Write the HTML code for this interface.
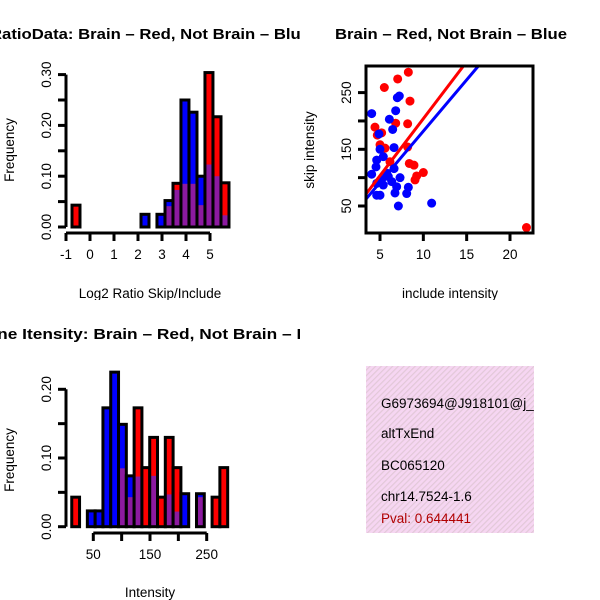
<!DOCTYPE html>
<html><head><meta charset="utf-8"><style>
html,body{margin:0;padding:0;background:#fff;}
svg{display:block;font-family:"Liberation Sans",sans-serif;}
</style></head><body>
<svg id="fig" width="600" height="600" viewBox="0 0 600 600" xmlns="http://www.w3.org/2000/svg">
<defs>
<clipPath id="c1"><rect x="0" y="0" width="300" height="300"/></clipPath>
<clipPath id="c2"><rect x="300" y="0" width="300" height="300"/></clipPath>
<clipPath id="c3"><rect x="0" y="300" width="300" height="300"/></clipPath>
<clipPath id="box2"><rect x="366" y="66" width="167" height="167"/></clipPath>
<clipPath id="box4"><rect x="366" y="366" width="168" height="167"/></clipPath>
<pattern id="hatch" width="4" height="4" patternUnits="userSpaceOnUse" patternTransform="rotate(45)">
<rect width="4" height="4" fill="#f6d6f2"/><rect width="1.2" height="4" fill="#e2c8d8"/></pattern>
</defs>
<g id="p1" clip-path="url(#c1)">
<text x="-10" y="39" textLength="320" lengthAdjust="spacingAndGlyphs" font-size="15" font-weight="bold">RatioData: Brain – Red, Not Brain – Blue</text>
<text x="150" y="298" text-anchor="middle" font-size="13.5">Log2 Ratio Skip/Include</text>
<text transform="translate(14,150) rotate(-90)" text-anchor="middle" font-size="13.5">Frequency</text>
</g>
<g id="p2" clip-path="url(#c2)">
<text x="335" y="39" textLength="232" lengthAdjust="spacingAndGlyphs" font-size="15" font-weight="bold">Brain – Red, Not Brain – Blue</text>
<text x="450" y="298" text-anchor="middle" font-size="13.5">include intensity</text>
<text transform="translate(314,150) rotate(-90)" text-anchor="middle" font-size="13.5">skip intensity</text>
</g>
<g id="p3" clip-path="url(#c3)">
<text x="-26" y="339" textLength="360" lengthAdjust="spacingAndGlyphs" font-size="15" font-weight="bold">Gene Itensity: Brain – Red, Not Brain – Blue</text>
<text x="150" y="597" text-anchor="middle" font-size="13.5">Intensity</text>
<text transform="translate(14,460) rotate(-90)" text-anchor="middle" font-size="13.5">Frequency</text>
</g>
<g id="p4">
<rect x="366" y="366" width="168" height="167" fill="url(#hatch)"/>
<g clip-path="url(#box4)" font-size="13.5">
<text x="381" y="408">G6973694@J918101@j_</text>
<text x="381" y="438">altTxEnd</text>
<text x="381" y="470">BC065120</text>
<text x="381" y="501">chr14.7524-1.6</text>
<text x="381" y="523" fill="#b00000">Pval: 0.644441</text>
</g>
</g>
</svg>
<script>
// ---- Panel 1 data ----
const ratioBinStarts = [-0.75, 2.125, 2.79, 3.125, 3.458, 3.79, 4.125, 4.458, 4.79, 5.125, 5.458];
const ratioBinWidth = 0.333;
const ratioRed  = [0.043, 0, 0, 0.041, 0.086, 0.085, 0.085, 0.043, 0.304, 0.217, 0.087];
const ratioBlue = [0, 0.025, 0.025, 0.052, 0.073, 0.25, 0.226, 0.1, 0.123, 0.1, 0.023];
const ratioXTicks = [-1, 0, 1, 2, 3, 4, 5];
const ratioYTicks = [0, 0.05, 0.1, 0.15, 0.2, 0.25, 0.3];
const ratioYLabels = ["0.00", "", "0.10", "", "0.20", "", "0.30"];
// ---- Panel 2 data ----
const redInclude = [8.27,7.04,5.5,8.46,6.81,8.19,4.42,4.69,5.19,5.0,5.58,8.19,6.15,8.38,8.92,10.0,9.23,9.04,21.9];
const redSkip    = [286,274,259,235,196,195,189,175,179,158,152,154,128,125,122,109,103,96,12];
const blueInclude = [4.04,7.23,7.0,6.81,6.08,6.46,4.88,5.0,6.62,5.38,4.62,4.54,4.04,6.62,5.96,7.31,4.62,5.38,6.35,6.92,8.27,6.73,8.08,5.0,4.62,7.12,10.96,5.77,5.19];
const blueSkip    = [213,244,241,218,203,185,177,150,153,137,131,119,106,116,102,100,90,87,93,84,83,73,72,69,69,50,55,108,97];
const redFit = [3, 20.1];   // intercept, slope
const blueFit = [1, 18.1];
const scatXTicks = [5, 10, 15, 20];
const scatYTicks = [50, 100, 150, 200, 250];
const scatYLabels = ["50", "", "150", "", "250"];
// ---- Panel 3 data ----
const intBinStart = 12;
const intBinWidth = 13.75;
const intRed  = [0.043,0,0,0,0,0,0.085,0.043,0.173,0.086,0.13,0.043,0.13,0.086,0,0,0.043,0,0.043,0.086];
const intBlue = [0,0,0.023,0.023,0.173,0.225,0.149,0.074,0.073,0,0.074,0,0.047,0.022,0.048,0,0.048,0,0,0];
const intXTicks = [50, 100, 150, 200, 250];
const intXLabels = ["50", "", "150", "", "250"];
const intYTicks = [0, 0.05, 0.1, 0.15, 0.2];
const intYLabels = ["0.00", "", "0.10", "", "0.20"];

const NS = "http://www.w3.org/2000/svg";
function mk(parent, tag, attrs) {
  const e = document.createElementNS(NS, tag);
  for (const k in attrs) e.setAttribute(k, attrs[k]);
  parent.appendChild(e);
  return e;
}
function txt(parent, x, y, s, attrs) {
  const t = mk(parent, "text", Object.assign({x: x, y: y, "font-size": 13.5, "text-anchor": "middle"}, attrs || {}));
  t.textContent = s;
  return t;
}

function histogram(g, starts, width, red, blue, sx, sy, prefix) {
  for (let i = 0; i < red.length; i++) {
    const r = red[i], b = blue[i];
    const hi = Math.max(r, b), lo = Math.min(r, b);
    if (hi <= 0) continue;
    const x0 = sx(starts(i)), x1 = sx(starts(i) + width);
    const bar = mk(g, "rect", {x: x0, y: sy(hi), width: x1 - x0, height: sy(0) - sy(hi), fill: r >= b ? "#ff0000" : "#0000ff"});
    
    
    if (lo > 0) {
      const ov = mk(g, "rect", {x: x0, y: sy(lo), width: x1 - x0, height: sy(0) - sy(lo), fill: "#8c1aa0"});
      
      
    }
    const ol = mk(g, "rect", {x: x0, y: sy(hi), width: x1 - x0, height: sy(0) - sy(hi), fill: "none", stroke: "#000", "stroke-width": 3});
    
    
  }
}
function yAxis(g, x, ticks, labels, sy, name) {
  const a = mk(g, "g", {});
  
  
  mk(a, "line", {x1: x, x2: x, y1: sy(ticks[0]), y2: sy(ticks[ticks.length - 1]), stroke: "#000", "stroke-width": 3});
  ticks.forEach((v, i) => {
    mk(a, "line", {x1: x, x2: x - 8, y1: sy(v), y2: sy(v), stroke: "#000", "stroke-width": 3});
    if (labels[i]) txt(a, 0, 0, labels[i], {transform: "translate(" + (x - 15) + "," + sy(v) + ") rotate(-90)"});
  });
}
function xAxis(g, y, ticks, labels, sx, name) {
  const a = mk(g, "g", {});
  
  
  mk(a, "line", {x1: sx(ticks[0]), x2: sx(ticks[ticks.length - 1]), y1: y, y2: y, stroke: "#000", "stroke-width": 3});
  ticks.forEach((v, i) => {
    mk(a, "line", {x1: sx(v), x2: sx(v), y1: y, y2: y + 8, stroke: "#000", "stroke-width": 3});
    if (labels[i]) txt(a, sx(v), y + 26, labels[i]);
  });
}

// Panel 1
(function () {
  const g = document.getElementById("p1");
  const sx = v => 90 + v * 24;
  const sy = v => 227 - v * 508;
  histogram(g, i => ratioBinStarts[i], ratioBinWidth, ratioRed, ratioBlue, sx, sy, "ratio");
  yAxis(g, 66, ratioYTicks, ratioYLabels, sy, "ratio-y-axis");
  xAxis(g, 233, ratioXTicks, ratioXTicks.map(String), sx, "ratio-x-axis");
})();

// Panel 2
(function () {
  const g = document.getElementById("p2");
  const sx = v => 380 + (v - 5) * 8.667;
  const sy = v => 206 - (v - 50) * 0.567;
  const pg = mk(g, "g", {"clip-path": "url(#box2)"});
  redInclude.forEach((v, i) => {
    const c = mk(pg, "circle", {cx: sx(v), cy: sy(redSkip[i]), r: 4.5, fill: "#ff0000"});
    
    
  });
  blueInclude.forEach((v, i) => {
    const c = mk(pg, "circle", {cx: sx(v), cy: sy(blueSkip[i]), r: 4.5, fill: "#0000ff"});
    
    
  });
  [[redFit, "#ff0000", "brain-fit-line"], [blueFit, "#0000ff", "not-brain-fit-line"]].forEach(([f, col, nm]) => {
    const xa = 0, xb = 30;
    const l = mk(pg, "line", {x1: sx(xa), y1: sy(f[0] + f[1] * xa), x2: sx(xb), y2: sy(f[0] + f[1] * xb), stroke: col, "stroke-width": 3});
    
    
  });
  const box = mk(g, "rect", {x: 366, y: 66, width: 167, height: 167, fill: "none", stroke: "#000", "stroke-width": 3});
  
  
  const ya = mk(g, "g", {});
  
  
  scatYTicks.forEach((v, i) => {
    mk(ya, "line", {x1: 366, x2: 358, y1: sy(v), y2: sy(v), stroke: "#000", "stroke-width": 3});
    if (scatYLabels[i]) txt(ya, 0, 0, scatYLabels[i], {transform: "translate(351," + sy(v) + ") rotate(-90)"});
  });
  const xa = mk(g, "g", {});
  
  
  scatXTicks.forEach(v => {
    mk(xa, "line", {x1: sx(v), x2: sx(v), y1: 233, y2: 241, stroke: "#000", "stroke-width": 3});
    txt(xa, sx(v), 259, String(v));
  });
})();

// Panel 3
(function () {
  const g = document.getElementById("p3");
  const sx = v => 93.3 + (v - 50) * 0.567;
  const sy = v => 526.7 - v * 687;
  histogram(g, i => intBinStart + i * intBinWidth, intBinWidth, intRed, intBlue, sx, sy, "intensity");
  yAxis(g, 66, intYTicks, intYLabels, sy, "intensity-y-axis");
  xAxis(g, 533, intXTicks, intXLabels, sx, "intensity-x-axis");
})();
</script>
</body></html>
